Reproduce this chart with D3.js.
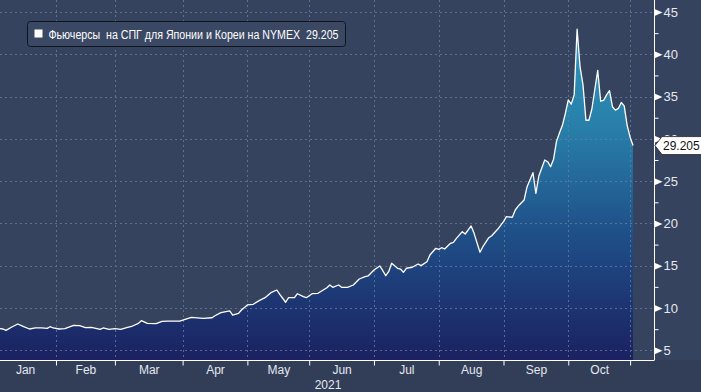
<!DOCTYPE html>
<html>
<head>
    <meta charset="UTF-8">
    <title>JKM futures</title>
    <script src="https://d3js.org/d3.v7.min.js"></script>
    <style type="text/css">
        body { margin: 0; background: #36435e; }
        svg { display: block; font-family: "Liberation Sans", Arial, sans-serif; }
    </style>
</head>
<body>
<script type="text/javascript">
    // Data (trading days, 2021)
    var dates = [
        "2021-01-04", "2021-01-06", "2021-01-07", "2021-01-11", "2021-01-13", "2021-01-15", "2021-01-19",
        "2021-01-21", "2021-01-25", "2021-01-27", "2021-01-28", "2021-01-29", "2021-02-02", "2021-02-04",
        "2021-02-09", "2021-02-11", "2021-02-15", "2021-02-17", "2021-02-22", "2021-02-23", "2021-02-25",
        "2021-03-01", "2021-03-03", "2021-03-05", "2021-03-09", "2021-03-11", "2021-03-12", "2021-03-16",
        "2021-03-19", "2021-03-23", "2021-03-25", "2021-03-31", "2021-04-06", "2021-04-12", "2021-04-15",
        "2021-04-16", "2021-04-20", "2021-04-23", "2021-04-26", "2021-04-28", "2021-04-29", "2021-05-03",
        "2021-05-05", "2021-05-07", "2021-05-11", "2021-05-13", "2021-05-17", "2021-05-18", "2021-05-20",
        "2021-05-21", "2021-05-25", "2021-05-26", "2021-05-28", "2021-05-31", "2021-06-02", "2021-06-04",
        "2021-06-09", "2021-06-10", "2021-06-11", "2021-06-15", "2021-06-16", "2021-06-18", "2021-06-22",
        "2021-06-24", "2021-06-28", "2021-06-29", "2021-07-01", "2021-07-05", "2021-07-06", "2021-07-07",
        "2021-07-08", "2021-07-09", "2021-07-13", "2021-07-14", "2021-07-15", "2021-07-16", "2021-07-20",
        "2021-07-22", "2021-07-23", "2021-07-27", "2021-07-28", "2021-07-30", "2021-08-02", "2021-08-03",
        "2021-08-04", "2021-08-06", "2021-08-09", "2021-08-10", "2021-08-12", "2021-08-13", "2021-08-17",
        "2021-08-18", "2021-08-20", "2021-08-23", "2021-08-25", "2021-08-26", "2021-08-30", "2021-09-01",
        "2021-09-02", "2021-09-06", "2021-09-07", "2021-09-08", "2021-09-10", "2021-09-13", "2021-09-15",
        "2021-09-16", "2021-09-17", "2021-09-21", "2021-09-22", "2021-09-23", "2021-09-24", "2021-09-27",
        "2021-09-28", "2021-09-29", "2021-09-30", "2021-10-01", "2021-10-04", "2021-10-05", "2021-10-06",
        "2021-10-07", "2021-10-08", "2021-10-11", "2021-10-12", "2021-10-13", "2021-10-15", "2021-10-18",
        "2021-10-19", "2021-10-20", "2021-10-21", "2021-10-22", "2021-10-25", "2021-10-26", "2021-10-27",
        "2021-10-28", "2021-10-29", "2021-11-01", "2021-11-02"
    ];
    var values = [
        7.62, 7.52, 7.36, 7.75, 8.11, 7.79, 7.52,
        7.64, 7.64, 7.60, 7.79, 7.64, 7.52, 7.56,
        7.95, 7.91, 7.67, 7.72, 7.48, 7.64, 7.48,
        7.56, 7.48, 7.67, 7.87, 8.19, 8.50, 8.19,
        8.15, 8.43, 8.46, 8.46, 8.90, 8.78, 8.85,
        9.09, 9.45, 9.65, 9.17, 9.37, 9.77, 10.36,
        10.44, 10.87, 11.22, 11.81, 12.13, 11.62, 10.68,
        11.22, 11.22, 11.69, 11.34, 11.22, 11.69, 11.74,
        12.40, 12.72, 12.45, 12.72, 12.45, 12.45, 12.72,
        13.43, 13.70, 13.79, 14.50, 14.97, 14.41, 13.82,
        14.29, 15.29, 14.70, 14.61, 14.22, 14.70, 14.82,
        15.21, 15.01, 15.48, 16.27, 17.06, 16.94, 17.13,
        16.98, 17.65, 17.77, 18.24, 19.03, 18.75, 19.70,
        18.83, 16.60, 17.25, 18.31, 18.55, 19.31, 20.21,
        20.80, 20.73, 21.59, 22.06, 22.77, 24.34, 26.00,
        23.56, 25.61, 27.50, 27.30, 26.70, 27.60, 29.70,
        30.70, 31.60, 33.00, 34.60, 34.10, 35.20, 42.96,
        38.50, 36.40, 32.20, 32.20, 33.50, 38.10, 34.45,
        34.55, 35.20, 35.70, 33.80, 33.40, 33.60, 34.30,
        33.90, 31.60, 30.20, 29.205
    ];
    var lastValue = "29.205";
    var seriesName = "Фьючерсы  на СПГ для Японии и Кореи на NYMEX";
    var monthStarts = ["2021-01-01", "2021-02-01", "2021-03-01", "2021-04-01", "2021-05-01", "2021-06-01",
        "2021-07-01", "2021-08-01", "2021-09-01", "2021-10-01", "2021-11-01"];
    var monthLabels = ["Jan", "Feb", "Mar", "Apr", "May", "Jun", "Jul", "Aug", "Sep", "Oct"];
    var yearLabel = "2021";
    var yTicks = [5, 10, 15, 20, 25, 30, 35, 40, 45];
    var yMinorTicks = [7.5, 12.5, 17.5, 22.5, 27.5, 32.5, 37.5, 42.5];

    var W = 701, H = 392;
    var plotRight = 654, plotBottom = 360;

    var parseDate = d3.timeParse("%Y-%m-%d");
    var origin = new Date(2021, 0, 1);

    // Weekday count since Jan 1 - chart uses a trading-day axis
    function wd(date) {
        var n = 0;
        for (var d = new Date(origin); d < date; d.setDate(d.getDate() + 1)) {
            var k = d.getDay();
            if (k !== 0 && k !== 6) n++;
        }
        return n;
    }

    var data = dates.map(function (d, i) { return { t: wd(parseDate(d)), v: values[i] }; });
    var monthIdx = monthStarts.map(function (d) { return wd(parseDate(d)); });

    var x = d3.scaleLinear().domain([0, 216]).range([-5.8, 630.1]);
    var y = d3.scaleLinear().domain([5, 45]).range([350.3, 12]);

    var svg = d3.select("body").append("svg")
        .attr("width", W)
        .attr("height", H);

    svg.append("rect").attr("width", W).attr("height", H).attr("fill", "#36435e");
    svg.append("rect").attr("y", plotBottom).attr("width", W).attr("height", H - plotBottom).attr("fill", "#323e58");

    var defs = svg.append("defs");
    var grad = defs.append("linearGradient")
        .attr("id", "fillGrad")
        .attr("gradientUnits", "userSpaceOnUse")
        .attr("x1", 0).attr("y1", 0).attr("x2", 0).attr("y2", plotBottom);
    grad.append("stop").attr("offset", "0").attr("stop-color", "#2d9bc3");
    grad.append("stop").attr("offset", "0.35").attr("stop-color", "#2880aa");
    grad.append("stop").attr("offset", "0.65").attr("stop-color", "#1f4f88");
    grad.append("stop").attr("offset", "1").attr("stop-color", "#1b2161");
    defs.append("clipPath").attr("id", "plotClip")
        .append("rect").attr("x", 0).attr("y", 0).attr("width", plotRight).attr("height", plotBottom);

    var plot = svg.append("g").attr("clip-path", "url(#plotClip)");

    // Area and line
    var area = d3.area()
        .x(function (d) { return x(d.t); })
        .y0(plotBottom)
        .y1(function (d) { return y(d.v); });
    var line = d3.line()
        .x(function (d) { return x(d.t); })
        .y(function (d) { return y(d.v); });

    plot.append("path").datum(data).attr("d", area).attr("fill", "url(#fillGrad)");

    // Grid
    var grid = plot.append("g")
        .attr("stroke", "#6a80a0")
        .attr("stroke-width", 1)
        .attr("stroke-dasharray", "2,3")
        .attr("opacity", 0.75);
    grid.selectAll("line.h").data(yTicks).enter().append("line")
        .attr("x1", 0).attr("x2", plotRight)
        .attr("y1", function (d) { return Math.round(y(d)) + 0.5; })
        .attr("y2", function (d) { return Math.round(y(d)) + 0.5; });
    grid.selectAll("line.v").data(monthIdx.slice(1)).enter().append("line")
        .attr("y1", 0).attr("y2", plotBottom)
        .attr("x1", function (d) { return Math.round(x(d)) + 0.5; })
        .attr("x2", function (d) { return Math.round(x(d)) + 0.5; });

    plot.append("path").datum(data).attr("d", line)
        .attr("fill", "none").attr("stroke", "#ffffff").attr("stroke-width", 1.3)
        .attr("stroke-linejoin", "round");

    // X axis: tick marks at month boundaries, labels centred in months
    var xTickAxis = d3.axisBottom(x).tickValues(monthIdx).tickSize(5).tickFormat("");
    var gx = svg.append("g").attr("transform", "translate(0," + (plotBottom + 0.5) + ")").call(xTickAxis);
    gx.select(".domain").attr("d", "M0,0H" + plotRight);
    gx.selectAll("line, path").attr("stroke", "#ffffff");

    var mids = monthLabels.map(function (m, i) { return (monthIdx[i] + monthIdx[i + 1]) / 2; });
    var xLabelAxis = d3.axisBottom(x).tickValues(mids).tickSize(0)
        .tickFormat(function (d, i) { return monthLabels[i]; });
    var gxl = svg.append("g").attr("transform", "translate(0," + (plotBottom + 2) + ")").call(xLabelAxis);
    gxl.select(".domain").remove();
    gxl.selectAll("text").attr("fill", "#e4e8ee").style("font-size", "12px")
        .style("font-family", "'Liberation Sans', Arial, sans-serif");

    svg.append("text")
        .attr("x", 328).attr("y", 389)
        .attr("text-anchor", "middle")
        .attr("fill", "#e4e8ee").style("font-size", "12px")
        .text(yearLabel);

    // Y axis on the right
    var gyMinor = svg.append("g").attr("transform", "translate(" + (plotRight + 0.5) + ",0)")
        .call(d3.axisRight(y).tickValues(yMinorTicks).tickSize(4).tickFormat(""));
    gyMinor.select(".domain").attr("d", "M0,0V" + (plotBottom + 0.5));
    gyMinor.selectAll("line, path").attr("stroke", "#ffffff");

    var gy = svg.append("g").attr("transform", "translate(" + (plotRight + 0.5) + ",0)")
        .call(d3.axisRight(y).tickValues(yTicks).tickSize(0).tickPadding(9));
    gy.select(".domain").remove();
    gy.selectAll(".tick").append("path")
        .attr("d", "M0,-3.5L8,0L0,3.5Z")
        .attr("fill", "#ffffff");
    gy.selectAll("text").attr("fill", "#e4e8ee").style("font-size", "13px")
        .style("font-family", "'Liberation Sans', Arial, sans-serif");

    // Last value callout
    var ly = y(values[values.length - 1]);
    var callout = svg.append("g").attr("transform", "translate(" + (plotRight + 1) + "," + ly + ")");
    callout.append("path")
        .attr("d", "M0,0L7,-9H48V9H7Z")
        .attr("fill", "#ffffff")
        .attr("stroke", "#222222")
        .attr("stroke-width", 0.8);
    callout.append("text")
        .attr("x", 8).attr("y", 4.5)
        .attr("fill", "#111111")
        .style("font-size", "12px")
        .text(lastValue);

    // Legend
    var legend = svg.append("g").attr("transform", "translate(27.5,21.5)");
    legend.append("rect")
        .attr("width", 318).attr("height", 25).attr("rx", 3)
        .attr("fill", "#3a4864").attr("stroke", "#10141c").attr("stroke-width", 1);
    legend.append("rect")
        .attr("x", 7).attr("y", 8).attr("width", 8).attr("height", 8)
        .attr("fill", "#ffffff");
    legend.append("text")
        .attr("x", 21).attr("y", 17)
        .attr("fill", "#ffffff")
        .style("font-size", "12px")
        .style("white-space", "pre")
        .attr("xml:space", "preserve")
        .attr("textLength", 290)
        .attr("lengthAdjust", "spacingAndGlyphs")
        .text(seriesName + "  " + lastValue);
</script>
</body>
</html>
